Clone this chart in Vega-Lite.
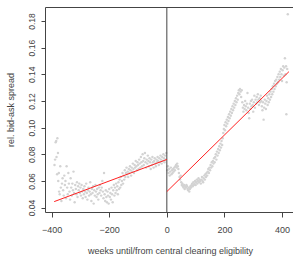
{
  "$schema": "https://vega.github.io/schema/vega-lite/v6.json",
  "width": 250,
  "height": 205,
  "autosize": "none",
  "padding": {"left": 45, "top": 7, "right": 0, "bottom": 50},
  "background": "white",
  "config": {
    "view": {"stroke": "#444", "strokeWidth": 1},
    "font": "Liberation Sans",
    "axis": {"grid": false, "domain": false, "tickColor": "#444", "tickSize": 5, "labelColor": "#444", "titleColor": "#444", "labelFontSize": 9, "titleFontSize": 9, "titleFontWeight": "normal", "labelFont": "Liberation Sans", "titleFont": "Liberation Sans"}
  },
  "datasets": {
    "pts": [
      {"x":-390,"y":0.072},{"x":-388,"y":0.076},{"x":-386,"y":0.089},{"x":-384,"y":0.09},{"x":-383,"y":0.078},{"x":-381,"y":0.065},{"x":-380,"y":0.092},{"x":-378,"y":0.081},{"x":-377,"y":0.06},{"x":-375,"y":0.066},{"x":-374,"y":0.052},{"x":-372,"y":0.05},{"x":-370,"y":0.071},{"x":-368,"y":0.055},{"x":-366,"y":0.045},{"x":-364,"y":0.058},{"x":-362,"y":0.062},{"x":-360,"y":0.053},{"x":-358,"y":0.049},{"x":-356,"y":0.064},{"x":-354,"y":0.057},{"x":-352,"y":0.06},{"x":-350,"y":0.047},{"x":-348,"y":0.071},{"x":-346,"y":0.055},{"x":-344,"y":0.05},{"x":-342,"y":0.066},{"x":-340,"y":0.058},{"x":-338,"y":0.052},{"x":-336,"y":0.046},{"x":-334,"y":0.062},{"x":-332,"y":0.055},{"x":-330,"y":0.049},{"x":-328,"y":0.058},{"x":-326,"y":0.053},{"x":-324,"y":0.067},{"x":-322,"y":0.051},{"x":-320,"y":0.044},{"x":-318,"y":0.057},{"x":-316,"y":0.054},{"x":-314,"y":0.05},{"x":-312,"y":0.059},{"x":-310,"y":0.048},{"x":-308,"y":0.056},{"x":-306,"y":0.053},{"x":-304,"y":0.058},{"x":-302,"y":0.051},{"x":-300,"y":0.055},{"x":-298,"y":0.049},{"x":-296,"y":0.057},{"x":-294,"y":0.052},{"x":-292,"y":0.047},{"x":-290,"y":0.054},{"x":-288,"y":0.05},{"x":-286,"y":0.056},{"x":-284,"y":0.052},{"x":-282,"y":0.048},{"x":-280,"y":0.058},{"x":-278,"y":0.051},{"x":-276,"y":0.046},{"x":-274,"y":0.053},{"x":-272,"y":0.055},{"x":-270,"y":0.049},{"x":-268,"y":0.052},{"x":-266,"y":0.059},{"x":-264,"y":0.05},{"x":-262,"y":0.045},{"x":-260,"y":0.054},{"x":-258,"y":0.051},{"x":-256,"y":0.056},{"x":-254,"y":0.043},{"x":-252,"y":0.053},{"x":-250,"y":0.049},{"x":-248,"y":0.057},{"x":-246,"y":0.052},{"x":-244,"y":0.048},{"x":-242,"y":0.054},{"x":-240,"y":0.05},{"x":-238,"y":0.046},{"x":-236,"y":0.055},{"x":-234,"y":0.051},{"x":-232,"y":0.057},{"x":-230,"y":0.053},{"x":-228,"y":0.049},{"x":-226,"y":0.055},{"x":-224,"y":0.06},{"x":-222,"y":0.052},{"x":-220,"y":0.047},{"x":-218,"y":0.066},{"x":-216,"y":0.05},{"x":-214,"y":0.045},{"x":-212,"y":0.053},{"x":-210,"y":0.048},{"x":-208,"y":0.044},{"x":-206,"y":0.052},{"x":-204,"y":0.049},{"x":-202,"y":0.043},{"x":-200,"y":0.054},{"x":-198,"y":0.048},{"x":-196,"y":0.051},{"x":-194,"y":0.046},{"x":-192,"y":0.055},{"x":-190,"y":0.05},{"x":-188,"y":0.044},{"x":-186,"y":0.053},{"x":-184,"y":0.057},{"x":-182,"y":0.049},{"x":-180,"y":0.055},{"x":-178,"y":0.051},{"x":-176,"y":0.058},{"x":-174,"y":0.053},{"x":-172,"y":0.056},{"x":-170,"y":0.05},{"x":-168,"y":0.059},{"x":-166,"y":0.054},{"x":-164,"y":0.061},{"x":-162,"y":0.055},{"x":-160,"y":0.063},{"x":-158,"y":0.057},{"x":-156,"y":0.06},{"x":-154,"y":0.066},{"x":-152,"y":0.058},{"x":-150,"y":0.064},{"x":-148,"y":0.061},{"x":-146,"y":0.068},{"x":-144,"y":0.063},{"x":-142,"y":0.066},{"x":-140,"y":0.07},{"x":-138,"y":0.065},{"x":-136,"y":0.067},{"x":-134,"y":0.063},{"x":-132,"y":0.069},{"x":-130,"y":0.066},{"x":-128,"y":0.071},{"x":-126,"y":0.068},{"x":-124,"y":0.064},{"x":-122,"y":0.07},{"x":-120,"y":0.067},{"x":-118,"y":0.073},{"x":-116,"y":0.069},{"x":-114,"y":0.066},{"x":-112,"y":0.072},{"x":-110,"y":0.07},{"x":-108,"y":0.075},{"x":-106,"y":0.071},{"x":-104,"y":0.068},{"x":-102,"y":0.074},{"x":-100,"y":0.072},{"x":-98,"y":0.069},{"x":-96,"y":0.076},{"x":-94,"y":0.073},{"x":-92,"y":0.07},{"x":-90,"y":0.078},{"x":-88,"y":0.074},{"x":-86,"y":0.071},{"x":-84,"y":0.08},{"x":-82,"y":0.075},{"x":-80,"y":0.072},{"x":-78,"y":0.077},{"x":-76,"y":0.081},{"x":-74,"y":0.074},{"x":-72,"y":0.07},{"x":-70,"y":0.076},{"x":-68,"y":0.073},{"x":-66,"y":0.079},{"x":-64,"y":0.075},{"x":-62,"y":0.071},{"x":-60,"y":0.077},{"x":-58,"y":0.074},{"x":-56,"y":0.069},{"x":-54,"y":0.076},{"x":-52,"y":0.072},{"x":-50,"y":0.078},{"x":-48,"y":0.074},{"x":-46,"y":0.07},{"x":-44,"y":0.075},{"x":-42,"y":0.077},{"x":-40,"y":0.073},{"x":-38,"y":0.071},{"x":-36,"y":0.076},{"x":-34,"y":0.074},{"x":-32,"y":0.078},{"x":-30,"y":0.075},{"x":-28,"y":0.072},{"x":-26,"y":0.077},{"x":-24,"y":0.074},{"x":-22,"y":0.079},{"x":-20,"y":0.076},{"x":-18,"y":0.073},{"x":-16,"y":0.078},{"x":-14,"y":0.075},{"x":-12,"y":0.08},{"x":-10,"y":0.077},{"x":-8,"y":0.074},{"x":-6,"y":0.079},{"x":-4,"y":0.076},{"x":-2,"y":0.081},
      {"x":2,"y":0.068},{"x":4,"y":0.071},{"x":6,"y":0.066},{"x":8,"y":0.069},{"x":10,"y":0.064},{"x":12,"y":0.067},{"x":14,"y":0.07},{"x":16,"y":0.065},{"x":18,"y":0.068},{"x":20,"y":0.066},{"x":22,"y":0.069},{"x":24,"y":0.067},{"x":26,"y":0.07},{"x":28,"y":0.068},{"x":30,"y":0.071},{"x":32,"y":0.072},{"x":34,"y":0.07},{"x":36,"y":0.073},{"x":38,"y":0.071},{"x":40,"y":0.069},{"x":42,"y":0.066},{"x":44,"y":0.063},{"x":46,"y":0.061},{"x":48,"y":0.064},{"x":50,"y":0.059},{"x":52,"y":0.057},{"x":54,"y":0.058},{"x":56,"y":0.056},{"x":58,"y":0.055},{"x":60,"y":0.057},{"x":62,"y":0.054},{"x":64,"y":0.056},{"x":66,"y":0.055},{"x":68,"y":0.057},{"x":70,"y":0.056},{"x":72,"y":0.054},{"x":74,"y":0.053},{"x":76,"y":0.055},{"x":78,"y":0.052},{"x":80,"y":0.054},{"x":82,"y":0.056},{"x":84,"y":0.055},{"x":86,"y":0.057},{"x":88,"y":0.058},{"x":90,"y":0.056},{"x":92,"y":0.059},{"x":94,"y":0.057},{"x":96,"y":0.058},{"x":98,"y":0.06},{"x":100,"y":0.057},{"x":102,"y":0.059},{"x":104,"y":0.061},{"x":106,"y":0.058},{"x":108,"y":0.06},{"x":110,"y":0.062},{"x":112,"y":0.059},{"x":114,"y":0.061},{"x":116,"y":0.06},{"x":118,"y":0.058},{"x":120,"y":0.061},{"x":122,"y":0.063},{"x":124,"y":0.06},{"x":126,"y":0.059},{"x":128,"y":0.062},{"x":130,"y":0.064},{"x":132,"y":0.061},{"x":134,"y":0.065},{"x":136,"y":0.063},{"x":138,"y":0.066},{"x":140,"y":0.064},{"x":142,"y":0.067},{"x":144,"y":0.069},{"x":146,"y":0.066},{"x":148,"y":0.07},{"x":150,"y":0.068},{"x":152,"y":0.072},{"x":154,"y":0.07},{"x":156,"y":0.074},{"x":158,"y":0.071},{"x":160,"y":0.075},{"x":162,"y":0.073},{"x":164,"y":0.077},{"x":166,"y":0.074},{"x":168,"y":0.078},{"x":170,"y":0.08},{"x":172,"y":0.076},{"x":174,"y":0.082},{"x":176,"y":0.079},{"x":178,"y":0.084},{"x":180,"y":0.081},{"x":182,"y":0.086},{"x":184,"y":0.083},{"x":186,"y":0.088},{"x":188,"y":0.085},{"x":190,"y":0.09},{"x":192,"y":0.087},{"x":194,"y":0.092},{"x":196,"y":0.096},{"x":198,"y":0.099},{"x":200,"y":0.102},{"x":202,"y":0.098},{"x":204,"y":0.104},{"x":206,"y":0.101},{"x":208,"y":0.106},{"x":210,"y":0.103},{"x":212,"y":0.108},{"x":214,"y":0.105},{"x":216,"y":0.11},{"x":218,"y":0.107},{"x":220,"y":0.112},{"x":222,"y":0.109},{"x":224,"y":0.114},{"x":226,"y":0.111},{"x":228,"y":0.116},{"x":230,"y":0.113},{"x":232,"y":0.118},{"x":234,"y":0.115},{"x":236,"y":0.12},{"x":238,"y":0.117},{"x":240,"y":0.122},{"x":242,"y":0.119},{"x":244,"y":0.124},{"x":246,"y":0.121},{"x":248,"y":0.126},{"x":250,"y":0.128},{"x":252,"y":0.125},{"x":254,"y":0.129},{"x":256,"y":0.127},{"x":258,"y":0.123},{"x":260,"y":0.128},{"x":262,"y":0.119},{"x":264,"y":0.115},{"x":266,"y":0.112},{"x":268,"y":0.117},{"x":270,"y":0.114},{"x":272,"y":0.12},{"x":274,"y":0.116},{"x":276,"y":0.113},{"x":278,"y":0.118},{"x":280,"y":0.126},{"x":282,"y":0.115},{"x":284,"y":0.111},{"x":286,"y":0.107},{"x":288,"y":0.118},{"x":290,"y":0.114},{"x":292,"y":0.12},{"x":294,"y":0.116},{"x":296,"y":0.121},{"x":298,"y":0.117},{"x":300,"y":0.112},{"x":302,"y":0.119},{"x":304,"y":0.124},{"x":306,"y":0.115},{"x":308,"y":0.121},{"x":310,"y":0.118},{"x":312,"y":0.123},{"x":314,"y":0.119},{"x":316,"y":0.125},{"x":318,"y":0.121},{"x":320,"y":0.117},{"x":322,"y":0.122},{"x":324,"y":0.119},{"x":326,"y":0.124},{"x":328,"y":0.12},{"x":330,"y":0.116},{"x":332,"y":0.113},{"x":334,"y":0.119},{"x":336,"y":0.106},{"x":338,"y":0.115},{"x":340,"y":0.121},{"x":342,"y":0.118},{"x":344,"y":0.114},{"x":346,"y":0.12},{"x":348,"y":0.124},{"x":350,"y":0.117},{"x":352,"y":0.122},{"x":354,"y":0.119},{"x":356,"y":0.125},{"x":358,"y":0.121},{"x":360,"y":0.127},{"x":362,"y":0.123},{"x":364,"y":0.129},{"x":366,"y":0.125},{"x":368,"y":0.131},{"x":370,"y":0.127},{"x":372,"y":0.133},{"x":374,"y":0.129},{"x":376,"y":0.135},{"x":378,"y":0.131},{"x":380,"y":0.136},{"x":382,"y":0.133},{"x":384,"y":0.138},{"x":386,"y":0.134},{"x":388,"y":0.14},{"x":390,"y":0.136},{"x":392,"y":0.142},{"x":394,"y":0.138},{"x":396,"y":0.144},{"x":398,"y":0.14},{"x":400,"y":0.135},{"x":402,"y":0.143},{"x":404,"y":0.146},{"x":406,"y":0.139},{"x":408,"y":0.145},{"x":410,"y":0.152},{"x":412,"y":0.14},{"x":414,"y":0.146},{"x":415,"y":0.11},{"x":416,"y":0.134},{"x":418,"y":0.144},{"x":420,"y":0.185}
    ],
    "fit": [
      {"seg":"before","x":-391,"y":0.0445},{"seg":"before","x":0,"y":0.0761},
      {"seg":"after","x":0,"y":0.052},{"seg":"after","x":424,"y":0.142}
    ],
    "cut": [{"x":0}]
  },
  "layer": [
    {
      "data": {"name": "pts"},
      "mark": {"type": "circle", "size": 6, "color": "#d3d3d3", "opacity": 1},
      "encoding": {
        "x": {"field": "x", "type": "quantitative", "scale": {"domain": [-423, 445], "nice": false, "zero": false},
          "axis": {"values": [-400, -200, 0, 200, 400], "title": "weeks until/from central clearing eligibility", "labelPadding": 8, "titlePadding": 12, "labelFlush": false}},
        "y": {"field": "y", "type": "quantitative", "scale": {"domain": [0.0367, 0.1905], "nice": false, "zero": false},
          "axis": {"values": [0.04, 0.06, 0.08, 0.1, 0.12, 0.14, 0.16, 0.18], "format": ".2f", "title": "rel. bid-ask spread", "labelAngle": 270, "labelAlign": "center", "labelBaseline": "bottom", "labelPadding": 5, "titlePadding": 12, "tickSize": 4, "labelOverlap": false, "labelFlush": false, "labelFontSize": 8.5}}
      }
    },
    {
      "data": {"name": "cut"},
      "mark": {"type": "rule", "color": "#444", "strokeWidth": 1},
      "encoding": {"x": {"field": "x", "type": "quantitative",
          "axis": {"values": [-400, -200, 0, 200, 400], "title": "weeks until/from central clearing eligibility", "labelPadding": 8, "titlePadding": 12, "labelFlush": false}}}
    },
    {
      "data": {"name": "fit"},
      "mark": {"type": "line", "color": "#ff2020", "strokeWidth": 1},
      "encoding": {
        "x": {"field": "x", "type": "quantitative",
          "axis": {"values": [-400, -200, 0, 200, 400], "title": "weeks until/from central clearing eligibility", "labelPadding": 8, "titlePadding": 12, "labelFlush": false}},
        "y": {"field": "y", "type": "quantitative",
          "axis": {"values": [0.04, 0.06, 0.08, 0.1, 0.12, 0.14, 0.16, 0.18], "format": ".2f", "title": "rel. bid-ask spread", "labelAngle": 270, "labelAlign": "center", "labelBaseline": "bottom", "labelPadding": 5, "titlePadding": 12, "tickSize": 4, "labelOverlap": false, "labelFlush": false, "labelFontSize": 8.5}},
        "detail": {"field": "seg"}
      }
    }
  ]
}
